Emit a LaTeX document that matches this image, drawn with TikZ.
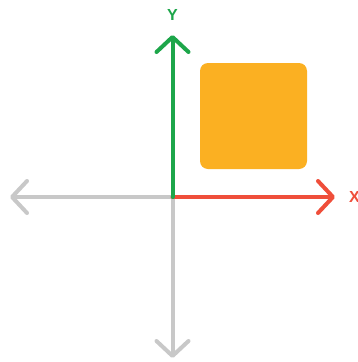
\documentclass[tikz,border=0pt]{standalone}
\usepackage{fontspec}
\setmainfont{Liberation Sans}
\usetikzlibrary{arrows.meta}
\definecolor{axgreen}{HTML}{1DA64A}
\definecolor{axred}{HTML}{EF4E3A}
\definecolor{axgray}{HTML}{C8C8C8}
\definecolor{boxorange}{HTML}{FBB022}
\tikzset{
  axis/.style={line width=4pt, line cap=round, line join=round,
    -{Straight Barb[length=15pt,width=32pt,round]}},
  lbl/.style={font=\bfseries\fontsize{16pt}{16pt}\selectfont, inner sep=0pt}
}
\begin{document}
\begin{tikzpicture}[x=1pt,y=-1pt]
\useasboundingbox[fill=white] (0,0) rectangle (358,362);
\coordinate (o) at (172.5,197);
\coordinate (xt) at (335,197);
\coordinate (yt) at (172.5,35);
\coordinate (lt) at (10,197);
\coordinate (bt) at (172.5,358);
\draw[axis, axgray] (o) -- (lt);
\draw[axis, axgray] (o) -- (bt);
\draw[axis, axred] (o) -- (xt);
\draw[axis, axgreen] (o) -- (yt);
\node[lbl, text=axgreen] (ylbl) at (172.5,15) {Y};
\node[lbl, text=axred, anchor=west] (xlbl) at (349,197) {X};
\node[fill=boxorange, rounded corners=8pt, minimum width=107pt, minimum height=106pt, inner sep=0pt] (sq) at (253.5,116) {};
\end{tikzpicture}
\end{document}
